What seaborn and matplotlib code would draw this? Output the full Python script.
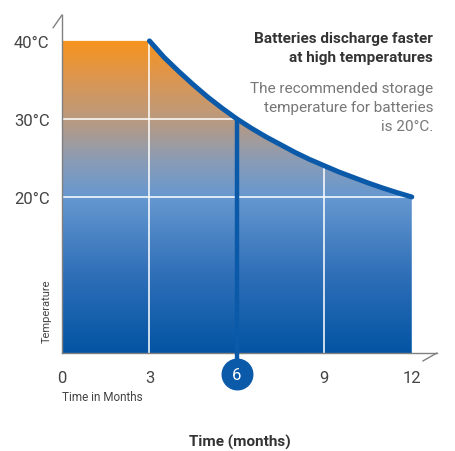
import matplotlib
matplotlib.use("Agg")
import matplotlib.pyplot as plt
from matplotlib.colors import LinearSegmentedColormap
import numpy as np
import pandas as pd
import seaborn as sns

# values
months = [3, 3.5, 4, 4.5, 5, 5.5, 6, 6.5, 7, 7.5, 8, 8.5, 9, 9.5, 10, 10.5, 11, 11.5, 12]
temps = [40, 37.9, 36.1, 34.4, 32.8, 31.35, 30, 28.8, 27.7, 26.7, 25.7, 24.8, 24.0,
         23.2, 22.5, 21.8, 21.15, 20.55, 20]
flat_months = [0, 3]
flat_temps = [40, 40]
y_ticks = [20, 30, 40]
y_labels = ["20°C", "30°C", "40°C"]
x_ticks = [0, 3, 6, 9, 12]
highlight_month = 6

df = pd.DataFrame({"month": months, "temp": temps})

sns.set_theme(style="white")
plt.rcParams["font.family"] = ["Roboto", "DejaVu Sans"]

fig = plt.figure(figsize=(4.56, 4.52), dpi=100)
ax = fig.add_axes([0.136, 0.2168, 0.822, 0.748])

# gradient fill under the curve
fx = flat_months + months[1:]
fy = flat_temps + temps[1:]
poly = ax.fill_between(fx, 0, fy, color="none", lw=0)
grad = LinearSegmentedColormap.from_list(
    "bat", [(0.0, "#0254a3"), (0.25, "#2f6fb8"), (0.5, "#6698d0"),
            (0.62, "#8c9cb4"), (0.75, "#bb9a7e"), (0.88, "#dc9650"), (1.0, "#f7941d")])
yy = np.linspace(0, 1, 256).reshape(-1, 1)
im = ax.imshow(yy, cmap=grad, origin="lower", aspect="auto",
               extent=[0, max(months), 0, max(temps)], zorder=1)
im.set_clip_path(poly.get_paths()[0], transform=ax.transData)

# white gridlines
for v in [20, 30]:
    ax.axhline(v, color="white", lw=1.3, alpha=0.85, zorder=2)
for v in [3, 9]:
    ax.axvline(v, color="white", lw=1.3, alpha=0.85, zorder=2)

# curve
sns.lineplot(data=df, x="month", y="temp", ax=ax, color="#0b5aa9", lw=3.6,
             zorder=4, solid_capstyle="round")

# highlight at 6 months
t6 = temps[months.index(highlight_month)]
ax.plot([highlight_month, highlight_month], [t6, -2.7], color="#0b5aa9", lw=3.2,
        zorder=4, clip_on=False)
ax.plot([highlight_month], [-2.7], "o", ms=22, color="#0b5aa9", zorder=5, clip_on=False)
ax.text(highlight_month, -2.75, str(highlight_month), color="white", fontsize=12,
        ha="center", va="center", zorder=6, clip_on=False)

ax.set_xlim(0, 12.86)
ax.set_ylim(0, 43.33)
ax.set_xticks(x_ticks)
ax.set_xticklabels(["" if t == highlight_month else str(t) for t in x_ticks])
ax.set_yticks(y_ticks)
ax.set_yticklabels(y_labels)
ax.tick_params(axis="both", length=0, labelsize=12, labelcolor="#444444")
ax.tick_params(axis="x", pad=12)
ax.tick_params(axis="y", pad=9)
ax.set_xlabel("")
ax.set_ylabel("")

for s in ["top", "right"]:
    ax.spines[s].set_visible(False)
for s in ["left", "bottom"]:
    ax.spines[s].set_color("#808080")
    ax.spines[s].set_linewidth(1.0)
    ax.spines[s].set_zorder(3)

# little diagonal strokes at the axis ends
ax.plot([0, -9 / 375], [1, 1 - 13 / 338], transform=ax.transAxes, color="#808080",
        lw=1.0, clip_on=False)
ax.plot([1, 1 - 14 / 375], [0, -8 / 338], transform=ax.transAxes, color="#808080",
        lw=1.0, clip_on=False)

ax.text(0, -0.13, "Time in Months", transform=ax.transAxes, fontsize=8.5,
        color="#444444", ha="left", va="center")
ax.text(-0.04, 0.125, "Temperature", transform=ax.transAxes, fontsize=8,
        color="#444444", rotation=90, ha="center", va="center")

fig.text(0.527, 0.022, "Time (months)", fontsize=11, fontweight="bold",
         color="#333333", ha="center", va="center")
fig.text(0.95, 0.93, "Batteries discharge faster\nat high temperatures",
         fontsize=11, fontweight="bold", color="#333333", ha="right", va="top",
         linespacing=1.45)
fig.text(0.95, 0.818, "The recommended storage\ntemperature for batteries\nis 20°C.",
         fontsize=11, fontweight="normal", color="#777777", ha="right", va="top",
         linespacing=1.45)

fig.savefig("out.png", dpi=100)
